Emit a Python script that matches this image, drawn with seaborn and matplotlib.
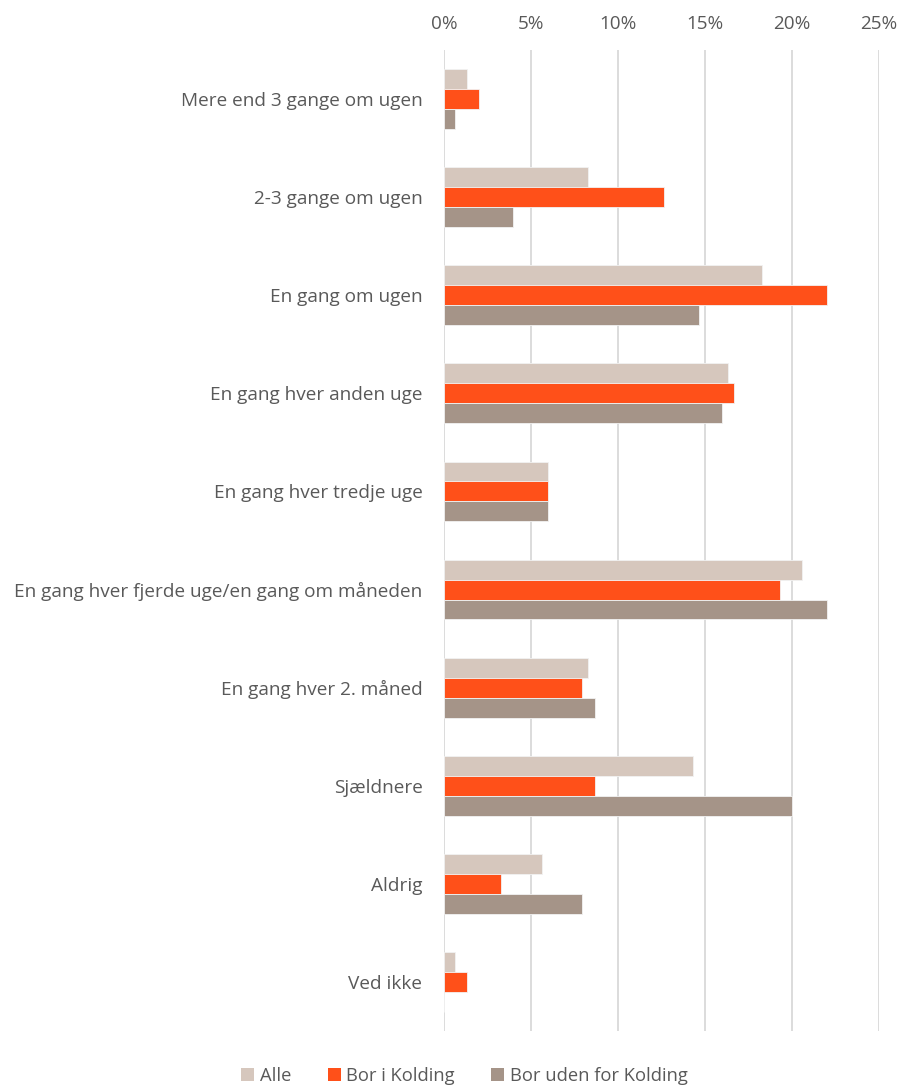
import matplotlib
matplotlib.use("Agg")
import matplotlib.pyplot as plt
import seaborn as sns
import pandas as pd
from matplotlib.ticker import FuncFormatter
from matplotlib.patches import Patch

categories = [
    "Mere end 3 gange om ugen",
    "2-3 gange om ugen",
    "En gang om ugen",
    "En gang hver anden uge",
    "En gang hver tredje uge",
    "En gang hver fjerde uge/en gang om måneden",
    "En gang hver 2. måned",
    "Sjældnere",
    "Aldrig",
    "Ved ikke",
]
series_names = ["Alle", "Bor i Kolding", "Bor uden for Kolding"]
alle = [1.3, 8.3, 18.3, 16.3, 6.0, 20.6, 8.3, 14.3, 5.65, 0.65]
kolding = [2.0, 12.65, 22.0, 16.65, 6.0, 19.3, 7.95, 8.65, 3.3, 1.3]
uden = [0.65, 3.95, 14.65, 16.0, 6.0, 22.0, 8.65, 20.0, 7.95, 0.0]
colors = ["#D6C7BD", "#FF5019", "#A59488"]
xticks = [0, 5, 10, 15, 20, 25]

rows = []
for name, vals in zip(series_names, [alle, kolding, uden]):
    for c, v in zip(categories, vals):
        rows.append({"cat": c, "series": name, "value": v})
df = pd.DataFrame(rows)

sns.set_theme(style="white")
plt.rcParams["font.family"] = ["Open Sans", "DejaVu Sans"]

fig = plt.figure(figsize=(9, 10.88), dpi=100)
ax = fig.add_axes([444 / 900, 1 - 1031 / 1088, 435 / 900, 981 / 1088])

sns.barplot(data=df, y="cat", x="value", hue="series", order=categories,
            hue_order=series_names, palette=colors, saturation=1, orient="h",
            width=0.61, ax=ax, legend=False, errorbar=None,
            edgecolor="#F2F2F2", linewidth=0.6)

ax.set_xlim(0, 25)
ax.set_xticks(xticks)
ax.xaxis.set_major_formatter(FuncFormatter(lambda v, p: f"{v:.0f}%"))
ax.xaxis.tick_top()
ax.tick_params(axis="x", length=0, pad=12, labelsize=13.6, labelcolor="#595959")
ax.tick_params(axis="y", length=0, pad=15.5, labelsize=13.7, labelcolor="#595959")
ax.set_xlabel("")
ax.set_ylabel("")
ax.grid(axis="x", color="#D9D9D9", linewidth=1.3)
ax.set_axisbelow(True)
for s in ax.spines.values():
    s.set_visible(False)

handles = [Patch(facecolor=c, edgecolor="none") for c in colors]
fig.legend(handles, series_names, loc="lower center", bbox_to_anchor=(0.516, -0.012),
           ncol=3, frameon=False, fontsize=13.2, labelcolor="#595959",
           handlelength=0.7, handleheight=0.7, handletextpad=0.3, columnspacing=2.0)

fig.savefig("out.png", dpi=100)
